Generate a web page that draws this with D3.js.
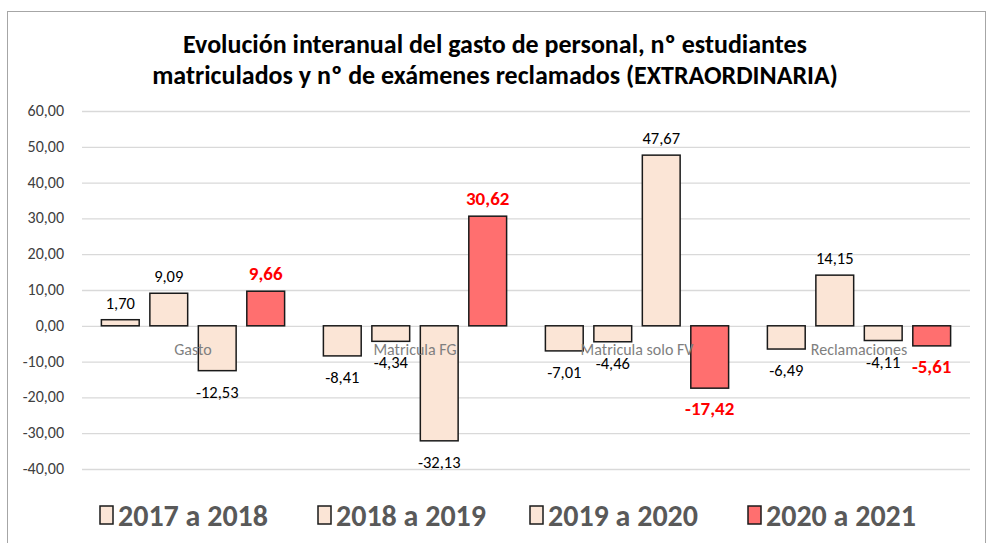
<!DOCTYPE html>
<html>
<head>
<meta charset="utf-8">
<script src="https://cdn.jsdelivr.net/npm/d3@7"></script>
<style>
	body { margin: 0; background: #fff; }
	svg { font-family: Carlito, Calibri, Lato, sans-serif; }
</style>
</head>
<body>
<div id="plot"></div>
<script>
var categories = ["Gasto", "Matricula FG", "Matricula solo FV", "Reclamaciones"];
var seriesNames = ["2017 a 2018", "2018 a 2019", "2019 a 2020", "2020 a 2021"];
var s2018 = [1.70, -8.41, -7.01, -6.49];
var s2019 = [9.09, -4.34, -4.46, 14.15];
var s2020 = [-12.53, -32.13, 47.67, -4.11];
var s2021 = [9.66, 30.62, -17.42, -5.61];
var yTicks = [-40, -30, -20, -10, 0, 10, 20, 30, 40, 50, 60];
var titleLines = ["Evolución interanual del gasto de personal, nº estudiantes",
	"matriculados y nº de exámenes reclamados (EXTRAORDINARIA)"];

var fills = ["#fbe5d6", "#fbe5d6", "#fbe5d6", "#ff6f6f"];
var seriesValues = [s2018, s2019, s2020, s2021];

function chart(){
	var width = 990, height = 543;
	var margin = {top: 111, right: 20, bottom: 74, left: 82};
	var plotW = 970 - margin.left;

	var svg = d3.select("#plot").append("svg")
		.attr("width", width)
		.attr("height", height);

	// chart frame
	svg.append("rect")
		.attr("x", 7.5).attr("y", 11.5)
		.attr("width", 978).attr("height", 560)
		.style("fill", "none").style("stroke", "#a6a6a6");

	svg.append("g").selectAll("text")
		.data(titleLines)
		.enter().append("text")
		.attr("x", 495)
		.attr("y", function(d, i) { return 53 + i * 31; })
		.attr("text-anchor", "middle")
		.style("font-size", "26px").style("font-weight", "bold").style("fill", "#000")
		.text(function(d) { return d; });

	var x0 = d3.scaleBand().domain(categories).range([margin.left, margin.left + plotW]);
	var x1 = d3.scaleBand().domain(seriesNames).range([0, x0.bandwidth()])
		.paddingInner(0.22).paddingOuter(0.4);
	var y = d3.scaleLinear().domain([-40, 60]).range([469, 111]);

	var fmt = function(v) { return d3.format(".2f")(v).replace(".", ",").replace("−", "-"); };

	// grid
	svg.append("g")
		.attr("transform", "translate(" + margin.left + ",0)")
		.call(d3.axisLeft(y).tickValues(yTicks).tickSize(-plotW).tickFormat(""))
		.call(function(g) {
			g.select(".domain").remove();
			g.selectAll(".tick line").style("stroke", "#d9d9d9").style("stroke-width", 1.3);
		});

	svg.append("g").selectAll("text")
		.data(yTicks)
		.enter().append("text")
		.attr("x", 64)
		.attr("y", function(d) { return y(d) + 5; })
		.attr("text-anchor", "end")
		.style("font-size", "16px").style("fill", "#404040")
		.text(fmt);

	var rows = [];
	categories.forEach(function(c, ci) {
		seriesNames.forEach(function(s, si) {
			rows.push({cat: c, series: s, si: si, value: seriesValues[si][ci]});
		});
	});

	svg.append("g").selectAll("rect")
		.data(rows)
		.enter().append("rect")
		.attr("x", function(d) { return x0(d.cat) + x1(d.series); })
		.attr("y", function(d) { return y(Math.max(0, d.value)); })
		.attr("width", x1.bandwidth())
		.attr("height", function(d) { return Math.abs(y(d.value) - y(0)); })
		.style("fill", function(d) { return fills[d.si]; })
		.style("stroke", "#1a1a1a").style("stroke-width", 1.5);

	// category labels sit just under the zero line
	svg.append("g").selectAll("text")
		.data(categories)
		.enter().append("text")
		.attr("x", function(d) { return x0(d) + x0.bandwidth() / 2; })
		.attr("y", y(0) + 29)
		.attr("text-anchor", "middle")
		.style("font-size", "16px").style("fill", "#7f7f7f")
		.text(function(d) { return d; });

	svg.append("g").selectAll("text")
		.data(rows)
		.enter().append("text")
		.attr("x", function(d) { return x0(d.cat) + x1(d.series) + x1.bandwidth() / 2; })
		.attr("y", function(d) { return d.value >= 0 ? y(d.value) - 11 : y(d.value) + 27; })
		.attr("text-anchor", "middle")
		.style("font-size", function(d) { return d.si == 3 ? "19px" : "16.5px"; })
		.style("font-weight", function(d) { return d.si == 3 ? "bold" : "normal"; })
		.style("fill", function(d) { return d.si == 3 ? "#ff0000" : "#000"; })
		.text(function(d) { return fmt(d.value); });

	// legend
	var legendX = [100, 318, 530, 748];
	var leg = svg.append("g").selectAll("g")
		.data(seriesNames)
		.enter().append("g")
		.attr("transform", function(d, i) { return "translate(" + legendX[i] + ",506)"; });
	leg.append("rect")
		.attr("width", 13).attr("height", 18)
		.style("fill", function(d, i) { return fills[i]; })
		.style("stroke", "#1a1a1a").style("stroke-width", 1.5);
	leg.append("text")
		.attr("x", 18).attr("y", 20)
		.style("font-size", "30px").style("font-weight", "bold").style("fill", "#595959")
		.text(function(d) { return d; });
}
chart();
</script>
</body>
</html>
